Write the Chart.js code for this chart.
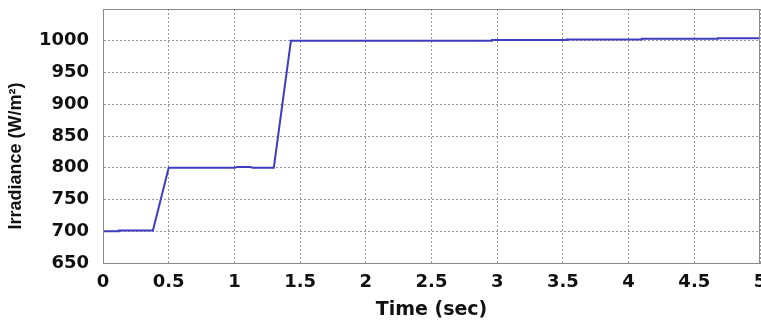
<!DOCTYPE html>
<html>
<head>
<meta charset="utf-8">
<script src="https://cdn.jsdelivr.net/npm/chart.js@4/dist/chart.umd.min.js"></script>
<style>
  html, body { margin: 0; padding: 0; background: #fff; }
  #wrap { width: 761px; height: 321px; }
</style>
</head>
<body>
<div id="wrap"><canvas id="irrChart"></canvas></div>
<script>
// Irradiance profile
const timeSec = [0, 0.12, 0.12, 0.38, 0.5, 1.0, 1.02, 1.12, 1.14, 1.3, 1.43, 2.96, 2.96, 3.53, 3.53, 4.1, 4.1, 4.68, 4.68, 5];
const irradiance = [700, 700, 701, 701, 800, 800, 801, 801, 800, 800, 1000, 1000, 1001, 1001, 1002, 1002, 1003, 1003, 1004, 1004];
const yTicks = [650, 700, 750, 800, 850, 900, 950, 1000];

const tickFont = { family: 'DejaVu Sans', weight: 'bold', size: 18 };

// gray frame round the plot area
const frameBox = {
  id: 'frameBox',
  afterDraw(chart) {
    const { ctx, chartArea: a } = chart;
    ctx.save();
    ctx.strokeStyle = '#8a8a8a';
    ctx.lineWidth = 1;
    ctx.strokeRect(a.left + 0.5, a.top + 0.5, a.right - a.left - 1, a.bottom - a.top);
    ctx.restore();
  }
};

function createIrrChart() {
  const ctx = document.getElementById('irrChart').getContext('2d');
  new Chart(ctx, {
    type: 'line',
    data: {
      datasets: [{
        data: timeSec.map((t, i) => ({ x: t, y: irradiance[i] })),
        borderColor: '#3d3dbf',
        borderWidth: 2,
        pointRadius: 0,
        tension: 0,
        fill: false
      }]
    },
    options: {
      responsive: true,
      maintainAspectRatio: false,
      animation: false,
      layout: { padding: { top: 9, right: 1, left: 0, bottom: 0 } },
      plugins: {
        legend: { display: false },
        tooltip: { enabled: false }
      },
      scales: {
        x: {
          type: 'linear',
          min: 0,
          max: 5,
          afterFit: (s) => { s.height = 58; s.paddingLeft = 0; s.paddingRight = 0; },
          ticks: {
            stepSize: 0.5,
            color: '#111',
            font: tickFont,
            padding: 9,
            maxRotation: 0,
            callback: (v) => String(v)
          },
          grid: { color: '#9a9a9a', drawTicks: false },
          border: { color: '#8a8a8a', dash: [2, 2] },
          title: {
            display: true,
            text: 'Time (sec)',
            color: '#111',
            font: { family: 'DejaVu Sans', weight: 'bold', size: 19 },
            padding: { top: 0, bottom: 0 }
          }
        },
        y: {
          min: 650,
          max: 1050,
          afterFit: (s) => { s.width = 103; s.paddingTop = 0; s.paddingBottom = 0; },
          afterBuildTicks: (s) => { s.ticks = yTicks.concat([1050]).map(v => ({ value: v })); },
          ticks: {
            color: '#111',
            font: tickFont,
            padding: 14,
            callback: (v) => yTicks.includes(v) ? String(v) : ''
          },
          grid: { color: '#9a9a9a', drawTicks: false },
          border: { color: '#8a8a8a', dash: [2, 2] },
          title: {
            display: true,
            // trailing spaces push the title down the axis like the original
            text: 'Irradiance (W/m²)        ',
            color: '#111',
            font: { family: 'Liberation Sans', weight: 'bold', size: 18 },
            padding: { top: 5, bottom: 0 }
          }
        }
      }
    },
    plugins: [frameBox]
  });
}

window.addEventListener('DOMContentLoaded', createIrrChart);
</script>
</body>
</html>
